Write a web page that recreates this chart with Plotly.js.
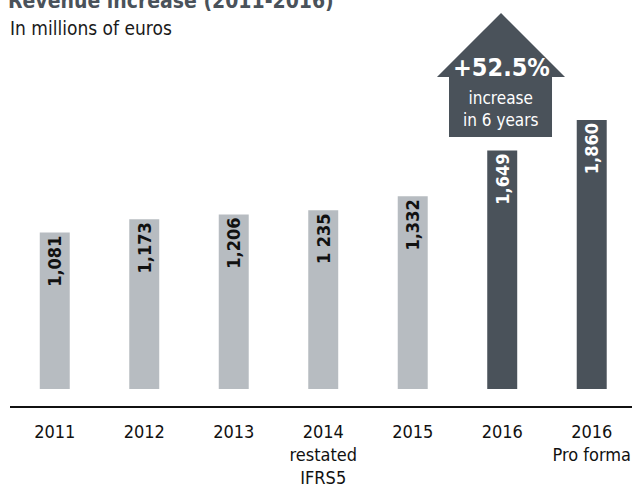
<!DOCTYPE html>
<html>
<head>
<meta charset="utf-8">
<script src="https://cdn.plot.ly/plotly-3.0.1.min.js"></script>
<style>html,body{margin:0;padding:0;background:#fff;}#chart{width:632px;height:484px;}</style>
</head>
<body>
<div id="chart"></div>
<script>
// Data
const categories = ['2011', '2012', '2013', '2014 restated IFRS5', '2015', '2016', '2016 Pro forma'];
const tickLabels = ['2011', '2012', '2013', '2014<br>restated<br>IFRS5', '2015', '2016', '2016<br>Pro forma'];
const revenue = [1081, 1173, 1206, 1235, 1332, 1649, 1860];
const valueLabels = ['1,081', '1,173', '1,206', '1 235', '1,332', '1,649', '1,860'];
const barKind = ['past', 'past', 'past', 'past', 'past', 'current', 'current'];

const LIGHT = '#b7bcc1';
const DARK = '#4a525a';
const FONT = '"DejaVu Sans Condensed", "Liberation Sans Narrow", "Roboto", sans-serif';

const barColors = barKind.map(k => k === 'past' ? LIGHT : DARK);
const textColors = barKind.map(k => k === 'past' ? '#111111' : '#ffffff');

const trace = {
  type: 'bar',
  x: categories,
  y: revenue,
  width: 0.335,
  marker: {color: barColors, line: {width: 0}},
  text: valueLabels,
  textposition: 'inside',
  insidetextanchor: 'end',
  textangle: -90,
  constraintext: 'none',
  insidetextfont: {family: FONT, size: 18, color: textColors, weight: 'bold'},
  hoverinfo: 'skip',
  cliponaxis: false
};

const layout = {
  width: 632,
  height: 484,
  margin: {l: 10, r: 0, t: 40, b: 78, pad: 0},
  paper_bgcolor: '#ffffff',
  plot_bgcolor: '#ffffff',
  showlegend: false,
  title: {
    text: 'Revenue increase (2011-2016)',
    font: {family: FONT, size: 21, color: DARK, weight: 'bold'},
    x: 8 / 632, xanchor: 'left', xref: 'container',
    y: 0.998, yanchor: 'middle', yref: 'container'
  },
  xaxis: {
    type: 'category',
    range: [-0.5, 6.45],
    tickvals: categories,
    ticktext: tickLabels,
    showline: true, linecolor: '#111111', linewidth: 2,
    showgrid: false, zeroline: false,
    ticks: '', ticklabelstandoff: 8,
    tickfont: {family: FONT, size: 18, color: '#111111'},
    fixedrange: true
  },
  yaxis: {
    range: [-118, 2413],
    visible: false,
    showgrid: false, zeroline: false,
    fixedrange: true
  },
  shapes: [{
    type: 'path', xref: 'paper', yref: 'paper',
    path: 'M 0.7058 0.7350 L 0.7058 0.8989 L 0.6865 0.8989 L 0.7894 1.0738 L 0.8923 0.8989 L 0.8714 0.8989 L 0.8714 0.7350 Z',
    fillcolor: DARK, line: {width: 0}, layer: 'above'
  }],
  annotations: [
    {text: 'In millions of euros', xref: 'paper', yref: 'paper', x: -0.0032, y: 1.0328,
     xanchor: 'left', yanchor: 'middle', showarrow: false,
     font: {family: FONT, size: 19, color: '#1a1a1a'}},
    {text: '+52.5%', xref: 'paper', yref: 'paper', x: 0.7894, y: 0.9262,
     xanchor: 'center', yanchor: 'middle', showarrow: false,
     font: {family: FONT, size: 25, color: '#ffffff', weight: 'bold'}},
    {text: 'increase<br>in 6 years', xref: 'paper', yref: 'paper', x: 0.7894, y: 0.8115,
     xanchor: 'center', yanchor: 'middle', showarrow: false,
     font: {family: FONT, size: 17, color: '#ffffff'}}
  ]
};

Plotly.newPlot('chart', [trace], layout, {displayModeBar: false, staticPlot: true});
</script>
</body>
</html>
